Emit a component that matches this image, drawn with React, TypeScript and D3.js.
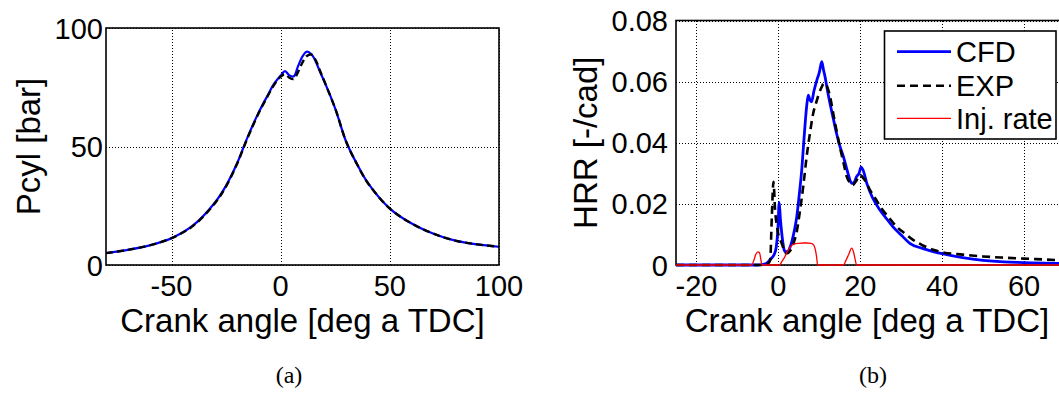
import React from "react";
import * as d3 from "d3";

// ---------- Panel (a): cylinder pressure ----------
const pAngles = [-80, -70, -60, -50, -40, -30, -25, -20, -15, -10, -6, -3, 0, 2, 4, 6, 8, 10, 12, 14, 16, 18, 20, 25, 30, 35, 40, 50, 60, 70, 80, 90, 100];
const pCFD = [5, 6.4, 8.3, 11.3, 16.8, 26.5, 33.5, 42.8, 54.3, 64.5, 71.5, 76.5, 80, 81.8, 80, 79.6, 84, 88, 90, 89, 86, 81.5, 77.5, 66, 52, 42.5, 34.5, 23.8, 17.5, 13.2, 10.3, 8.7, 7.7];
const pEXP = [5, 6.4, 8.3, 11.3, 16.6, 26.2, 33.2, 42.6, 54, 64.2, 71.2, 76, 79.5, 80.5, 79, 78.5, 81.5, 85.5, 88.2, 88.8, 86.5, 82, 77.5, 66, 52, 42.5, 34.5, 23.8, 17.5, 13.2, 10.3, 8.7, 7.7];
const aXTicks = [-50, 0, 50, 100];
const aYTicks = [0, 50, 100];

// ---------- Panel (b): heat release rate ----------
const cfdAngles = [-25, -5, -3, -2, -1, -0.5, -0.1, 0.2, 0.5, 0.9, 1.6, 2.3, 2.9, 3.7, 4.5, 5.1, 5.7, 6.3, 6.9, 7.3, 7.7, 8.1, 8.7, 9.4, 10.0, 10.6, 11.0, 11.4, 12.0, 12.6, 13.4, 14.2, 15.0, 15.9, 17.0, 17.9, 18.5, 19.1, 19.7, 20.2, 20.7, 21.6, 23, 24.8, 26.5, 28, 30, 32.1, 35, 37.8, 40, 45, 50, 55, 60, 65, 70];
const cfdHRR = [0, 0, 0.0005, 0.0018, 0.0035, 0.006, 0.012, 0.0205, 0.015, 0.0095, 0.0044, 0.0045, 0.006, 0.01, 0.0158, 0.023, 0.031, 0.042, 0.0518, 0.0556, 0.054, 0.0534, 0.057, 0.0605, 0.063, 0.0665, 0.064, 0.0616, 0.057, 0.0529, 0.048, 0.0431, 0.039, 0.0354, 0.03, 0.0267, 0.027, 0.0289, 0.03, 0.032, 0.031, 0.0267, 0.022, 0.018, 0.015, 0.0125, 0.0098, 0.0071, 0.0055, 0.0044, 0.0037, 0.0024, 0.0015, 0.001, 0.0008, 0.0006, 0.0005];
const expAngles = [-25, -3.2, -2.5, -2.0, -1.6, -1.2, -0.8, -0.2, 0.8, 2.0, 2.8, 3.7, 4.5, 5.3, 6.1, 6.9, 7.7, 8.5, 9.2, 9.8, 10.5, 11.1, 11.7, 12.2, 12.8, 13.4, 14.2, 15.0, 15.9, 16.7, 17.4, 18.1, 19.0, 19.9, 21, 22.4, 23.8, 25.2, 27, 28.9, 31, 32.9, 35, 37.8, 40, 45, 50, 55, 60, 65, 70];
const expHRR = [0, 0, 0.0005, 0.0016, 0.0158, 0.0272, 0.018, 0.0114, 0.0071, 0.0038, 0.0045, 0.0071, 0.011, 0.018, 0.026, 0.0354, 0.043, 0.0496, 0.053, 0.0556, 0.058, 0.0594, 0.059, 0.0572, 0.054, 0.0496, 0.044, 0.0387, 0.0335, 0.0289, 0.027, 0.0261, 0.0275, 0.0294, 0.028, 0.0245, 0.0215, 0.0185, 0.0155, 0.0125, 0.0102, 0.0082, 0.0066, 0.005, 0.0042, 0.0034, 0.0028, 0.0024, 0.0021, 0.0018, 0.0015];
const injAngles = [-25, -6.5, -6, -5.5, -5, -4.6, -4.3, -4, 0.3, 0.8, 1.5, 2.2, 3, 3.8, 5, 6, 7, 8, 8.6, 9, 9.3, 9.6, 15.9, 16.5, 17.2, 17.9, 18.4, 18.8, 19.1, 70];
const injRate = [0, 0, 0.0015, 0.0035, 0.0043, 0.004, 0.002, 0, 0, 0.001, 0.0025, 0.0045, 0.006, 0.0068, 0.0071, 0.0072, 0.0072, 0.0071, 0.0066, 0.0052, 0.003, 0, 0, 0.0015, 0.0035, 0.0055, 0.004, 0.0015, 0, 0];
const bXTicks = [-20, 0, 20, 40, 60];
const bYTicks = [0, 0.02, 0.04, 0.06, 0.08];
const bYLabels = ["0", "0.02", "0.04", "0.06", "0.08"];
const legendLabels = ["CFD", "EXP", "Inj. rate"];

const SANS = "'Liberation Sans', Arial, Helvetica, sans-serif";
const SERIF = "'Liberation Serif', 'Times New Roman', serif";

export default function App() {
  // panel a geometry
  const ax = d3.scaleLinear().domain([-80, 100]).range([106, 499]);
  const ay = d3.scaleLinear().domain([0, 100]).range([265, 28]);
  // panel b geometry
  const bx = d3.scaleLinear().domain([-25, 70]).range([676, 1065]);
  const by = d3.scaleLinear().domain([0, 0.08]).range([265, 20.5]);

  const lineA = (vals: number[]) =>
    d3.line<number>().x((_, i) => ax(pAngles[i])).y((v) => ay(v)).curve(d3.curveCatmullRom.alpha(0.5))(vals) || "";
  const lineB = (angles: number[], vals: number[]) =>
    d3.line<number>().x((_, i) => bx(angles[i])).y((v) => by(v)).curve(d3.curveMonotoneX)(vals) || "";

  const grid = { stroke: "#000", strokeWidth: 1, strokeDasharray: "1,2", shapeRendering: "crispEdges" as const };

  const [ax0, ax1] = ax.range();
  const [ay0, ay1] = ay.range();
  const [bx0, bx1] = bx.range();
  const [by0, by1] = by.range();
  const r = (v: number) => Math.round(v) + 0.5;

  return (
    <div style={{ position: "absolute", left: 0, top: 0 }}>
      <svg width={1059} height={396} style={{ display: "block", background: "#fff" }}>
        <defs>
          <clipPath id="clipA">
            <rect x={ax0} y={ay1} width={ax1 - ax0} height={ay0 - ay1} />
          </clipPath>
          <clipPath id="clipB">
            <rect x={bx0} y={by1} width={bx1 - bx0} height={by0 - by1 + 2} />
          </clipPath>
        </defs>

        {/* ---------- Panel a ---------- */}
        <rect x={ax0} y={ay1} width={ax1 - ax0} height={ay0 - ay1} fill="#fff" />
        {aXTicks.map((t) => (
          <line key={"agx" + t} x1={r(ax(t))} x2={r(ax(t))} y1={ay0} y2={ay1} {...grid} />
        ))}
        {aYTicks.map((t) => (
          <line key={"agy" + t} x1={ax0} x2={ax1} y1={r(ay(t))} y2={r(ay(t))} {...grid} />
        ))}
        <g clipPath="url(#clipA)">
          <path d={lineA(pCFD)} fill="none" stroke="#0000ff" strokeWidth={2.2} />
          <path d={lineA(pEXP)} fill="none" stroke="#000" strokeWidth={2.4} strokeDasharray="7,4" />
        </g>
        <rect x={ax0} y={ay1} width={ax1 - ax0} height={ay0 - ay1} fill="none" stroke="#000" strokeWidth={1.6} />
        {aXTicks.map((t) => (
          <text key={"axt" + t} x={ax(t)} y={296} textAnchor="middle" fontFamily={SANS} fontSize={29}>
            {t}
          </text>
        ))}
        {aYTicks.map((t) => (
          <text key={"ayt" + t} x={ax0 - 3} y={ay(t) + 10.5} textAnchor="end" fontFamily={SANS} fontSize={29}>
            {t}
          </text>
        ))}
        <text x={(ax0 + ax1) / 2} y={332} textAnchor="middle" fontFamily={SANS} fontSize={33}>
          Crank angle [deg a TDC]
        </text>
        <text
          transform={`translate(40,${(ay0 + ay1) / 2}) rotate(-90)`}
          textAnchor="middle"
          fontFamily={SANS}
          fontSize={33}
        >
          Pcyl [bar]
        </text>
        <text x={289} y={383} textAnchor="middle" fontFamily={SERIF} fontSize={24}>
          (a)
        </text>

        {/* ---------- Panel b ---------- */}
        <rect x={bx0} y={by1} width={bx1 - bx0} height={by0 - by1} fill="#fff" />
        {bXTicks.map((t) => (
          <line key={"bgx" + t} x1={r(bx(t))} x2={r(bx(t))} y1={by0} y2={by1} {...grid} />
        ))}
        {bYTicks.map((t) => (
          <line key={"bgy" + t} x1={bx0} x2={bx1} y1={r(by(t))} y2={r(by(t))} {...grid} />
        ))}
        <rect x={bx0} y={by1} width={bx1 - bx0} height={by0 - by1} fill="none" stroke="#000" strokeWidth={1.6} />
        <g clipPath="url(#clipB)">
          <path d={lineB(cfdAngles, cfdHRR)} fill="none" stroke="#0000ff" strokeWidth={2.8} />
          <path d={lineB(expAngles, expHRR)} fill="none" stroke="#000" strokeWidth={2.6} strokeDasharray="8,5" />
          <path d={lineB(injAngles, injRate)} fill="none" stroke="#ff0000" strokeWidth={1.3} />
        </g>
        {bXTicks.map((t) => (
          <text key={"bxt" + t} x={bx(t)} y={296} textAnchor="middle" fontFamily={SANS} fontSize={29}>
            {t}
          </text>
        ))}
        {bYTicks.map((t, i) => (
          <text key={"byt" + t} x={bx0 - 8} y={by(t) + 10.5} textAnchor="end" fontFamily={SANS} fontSize={29}>
            {bYLabels[i]}
          </text>
        ))}
        <text x={(bx0 + 1058) / 2} y={332} textAnchor="middle" fontFamily={SANS} fontSize={33}>
          Crank angle [deg a TDC]
        </text>
        <text
          transform={`translate(597,${(by0 + by1) / 2}) rotate(-90)`}
          textAnchor="middle"
          fontFamily={SANS}
          fontSize={33}
        >
          HRR [-/cad]
        </text>
        <text x={873} y={383} textAnchor="middle" fontFamily={SERIF} fontSize={24}>
          (b)
        </text>

        {/* legend */}
        <rect x={884.5} y={31} width={171.5} height={108} fill="#fff" stroke="#000" strokeWidth={1.6} />
        {legendLabels.map((lab, i) => {
          const yy = [51.7, 85.7, 118.3][i];
          const styles = [
            { stroke: "#0000ff", strokeWidth: 2.8 },
            { stroke: "#000", strokeWidth: 2.6, strokeDasharray: "8,5" },
            { stroke: "#ff0000", strokeWidth: 1.3 },
          ][i];
          return (
            <g key={lab}>
              <line x1={897} x2={951} y1={yy} y2={yy} {...styles} />
              <text x={956} y={yy + 10.5} fontFamily={SANS} fontSize={29}>
                {lab}
              </text>
            </g>
          );
        })}
      </svg>
    </div>
  );
}
